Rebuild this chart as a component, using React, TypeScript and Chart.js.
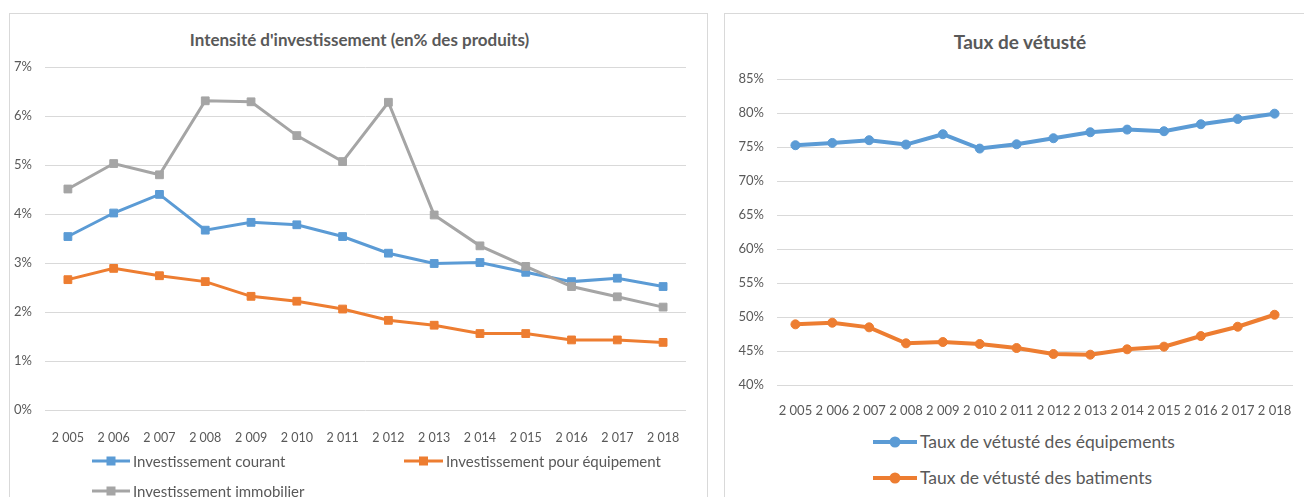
import React, { useEffect, useRef } from "react";
import { Chart, registerables } from "chart.js";

Chart.register(...registerables);

// ---------- DATA ----------
const years = ["2 005", "2 006", "2 007", "2 008", "2 009", "2 010", "2 011", "2 012", "2 013", "2 014", "2 015", "2 016", "2 017", "2 018"];

const investCourant = [3.54, 4.02, 4.4, 3.67, 3.83, 3.78, 3.54, 3.2, 2.99, 3.01, 2.81, 2.62, 2.69, 2.52];
const investEquipement = [2.66, 2.89, 2.74, 2.62, 2.32, 2.22, 2.06, 1.83, 1.73, 1.56, 1.56, 1.43, 1.43, 1.38];
const investImmobilier = [4.51, 5.03, 4.8, 6.31, 6.29, 5.6, 5.07, 6.28, 3.98, 3.35, 2.93, 2.52, 2.31, 2.1];

const vetusteEquipements = [75.26, 75.6, 76.0, 75.36, 76.88, 74.77, 75.4, 76.29, 77.17, 77.56, 77.32, 78.35, 79.12, 79.9];
const vetusteBatiments = [48.92, 49.16, 48.48, 46.13, 46.32, 46.03, 45.44, 44.56, 44.46, 45.25, 45.64, 47.2, 48.57, 50.33];

const leftTicks = [0, 1, 2, 3, 4, 5, 6, 7];
const rightTicks = [40, 45, 50, 55, 60, 65, 70, 75, 80, 85];

const leftTitle = "Intensité d'investissement (en% des produits)";
const rightTitle = "Taux de vétusté";
const leftNames = ["Investissement courant", "Investissement pour équipement", "Investissement immobilier"];
const rightNames = ["Taux de vétusté des équipements", "Taux de vétusté des batiments"];

// ---------- STYLE ----------
const BLUE = "#5B9BD5";
const ORANGE = "#ED7D31";
const GREY = "#A5A5A5";
const TEXT = "#595959";
const GRID = "#D9D9D9";
const FONT = "Lato, 'Open Sans', sans-serif";

type ChartBoxProps = {
  left: number;
  top: number;
  width: number;
  height: number;
  config: any;
};

function ChartCanvas({ left, top, width, height, config }: ChartBoxProps) {
  const ref = useRef<HTMLCanvasElement | null>(null);
  useEffect(() => {
    if (!ref.current) return;
    const chart = new Chart(ref.current, config);
    return () => chart.destroy();
  }, []);
  return (
    <canvas
      ref={ref}
      width={width}
      height={height}
      style={{ position: "absolute", left, top, width, height }}
    />
  );
}

function makeConfig(opts: {
  datasets: any[];
  ticks: number[];
  yWidth: number;
  xHeight: number;
  padding: any;
  xPad: number;
  yPad: number;
  xFontSize: number;
  yFontSize: number;
}) {
  return {
    type: "line",
    data: { labels: years, datasets: opts.datasets },
    options: {
      responsive: false,
      animation: false,
      layout: { padding: opts.padding },
      plugins: {
        legend: { display: false },
        title: { display: false },
        tooltip: { enabled: false },
      },
      scales: {
        x: {
          offset: true,
          grid: { display: false },
          border: { display: false },
          ticks: {
            color: TEXT,
            font: { family: FONT, size: opts.xFontSize },
            padding: opts.xPad,
            autoSkip: false,
            maxRotation: 0,
            minRotation: 0,
          },
          afterFit: (s: any) => {
            s.height = opts.xHeight;
          },
        },
        y: {
          min: opts.ticks[0],
          max: opts.ticks[opts.ticks.length - 1],
          grid: { color: GRID, lineWidth: 1, drawTicks: false },
          border: { display: false },
          ticks: {
            stepSize: opts.ticks[1] - opts.ticks[0],
            color: TEXT,
            font: { family: FONT, size: opts.yFontSize },
            padding: opts.yPad,
            callback: (v: any) => `${v}%`,
          },
          afterFit: (s: any) => {
            s.width = opts.yWidth;
          },
        },
      },
    },
  };
}

const leftConfig = makeConfig({
  datasets: [
    { label: leftNames[0], data: investCourant, borderColor: BLUE, backgroundColor: BLUE, borderWidth: 3, pointStyle: "rect", pointRadius: 5.5, pointBorderWidth: 1, pointBackgroundColor: BLUE, pointBorderColor: BLUE, order: 3 },
    { label: leftNames[1], data: investEquipement, borderColor: ORANGE, backgroundColor: ORANGE, borderWidth: 3, pointStyle: "rect", pointRadius: 5.5, pointBorderWidth: 1, pointBackgroundColor: ORANGE, pointBorderColor: ORANGE, order: 2 },
    { label: leftNames[2], data: investImmobilier, borderColor: GREY, backgroundColor: GREY, borderWidth: 3, pointStyle: "rect", pointRadius: 5.5, pointBorderWidth: 1, pointBackgroundColor: GREY, pointBorderColor: GREY, order: 1 },
  ],
  ticks: leftTicks,
  yWidth: 36,
  xHeight: 40,
  padding: { top: 21, right: 22, left: 0, bottom: 0 },
  xPad: 12,
  yPad: 13,
  xFontSize: 12.5,
  yFontSize: 13,
});

const rightConfig = makeConfig({
  datasets: [
    { label: rightNames[0], data: vetusteEquipements, borderColor: BLUE, backgroundColor: BLUE, borderWidth: 4, pointStyle: "circle", pointRadius: 4.5, pointBorderWidth: 1, pointBackgroundColor: BLUE, pointBorderColor: BLUE },
    { label: rightNames[1], data: vetusteBatiments, borderColor: ORANGE, backgroundColor: ORANGE, borderWidth: 4, pointStyle: "circle", pointRadius: 4.5, pointBorderWidth: 1, pointBackgroundColor: ORANGE, pointBorderColor: ORANGE },
  ],
  ticks: rightTicks,
  yWidth: 53,
  xHeight: 35,
  padding: { top: 29, right: 11, left: 0, bottom: 0 },
  xPad: 10,
  yPad: 13,
  xFontSize: 13,
  yFontSize: 13,
});

function LegendItem({ x, y, lineW, textX, color, marker, name, fontSize, stroke }: any) {
  const h = 14;
  return (
    <div style={{ position: "absolute", left: x, top: y - 12, height: 24, display: "flex", alignItems: "center", whiteSpace: "nowrap" }}>
      <svg width={lineW} height={h} style={{ display: "block" }}>
        <line x1={0} y1={h / 2} x2={lineW} y2={h / 2} stroke={color} strokeWidth={stroke} />
        {marker === "rect" ? (
          <rect x={lineW / 2 - 4.5} y={h / 2 - 4.5} width={9} height={9} fill={color} />
        ) : (
          <circle cx={lineW / 2} cy={h / 2} r={5.5} fill={color} />
        )}
      </svg>
      <span style={{ marginLeft: textX - x - lineW, fontFamily: FONT, fontSize, color: TEXT, lineHeight: "24px" }}>{name}</span>
    </div>
  );
}

export default function App() {
  return (
    <div style={{ position: "fixed", left: 0, top: 0, width: 1304, height: 497, overflow: "hidden", background: "#fff" }}>
      {/* Left box */}
      <div style={{ position: "absolute", left: 9, top: 13, width: 699, height: 520, border: `1px solid ${GRID}`, boxSizing: "border-box" }} />
      <div style={{ position: "absolute", left: 9, top: 29, width: 701, textAlign: "center", fontFamily: FONT, fontWeight: 700, fontSize: 17, lineHeight: "22px", color: TEXT, whiteSpace: "nowrap" }}>
        {leftTitle}
      </div>
      <ChartCanvas left={9} top={46} width={699} height={404} config={leftConfig} />
      <LegendItem x={92} y={461} lineW={38} textX={133} color={BLUE} marker="rect" name={leftNames[0]} fontSize={15} stroke={3} />
      <LegendItem x={404} y={461} lineW={39} textX={446} color={ORANGE} marker="rect" name={leftNames[1]} fontSize={15} stroke={3} />
      <LegendItem x={92} y={491} lineW={38} textX={133} color={GREY} marker="rect" name={leftNames[2]} fontSize={15} stroke={3} />

      {/* Right box */}
      <div style={{ position: "absolute", left: 724, top: 13, width: 600, height: 520, border: `1px solid ${GRID}`, boxSizing: "border-box" }} />
      <div style={{ position: "absolute", left: 724, top: 29, width: 592, textAlign: "center", fontFamily: FONT, fontWeight: 700, fontSize: 19, lineHeight: "26px", color: TEXT, whiteSpace: "nowrap" }}>
        {rightTitle}
      </div>
      <ChartCanvas left={724} top={50} width={580} height={370} config={rightConfig} />
      <LegendItem x={873} y={442} lineW={44} textX={920} color={BLUE} marker="circle" name={rightNames[0]} fontSize={17.5} stroke={4} />
      <LegendItem x={873} y={478} lineW={44} textX={920} color={ORANGE} marker="circle" name={rightNames[1]} fontSize={17.5} stroke={4} />
    </div>
  );
}
